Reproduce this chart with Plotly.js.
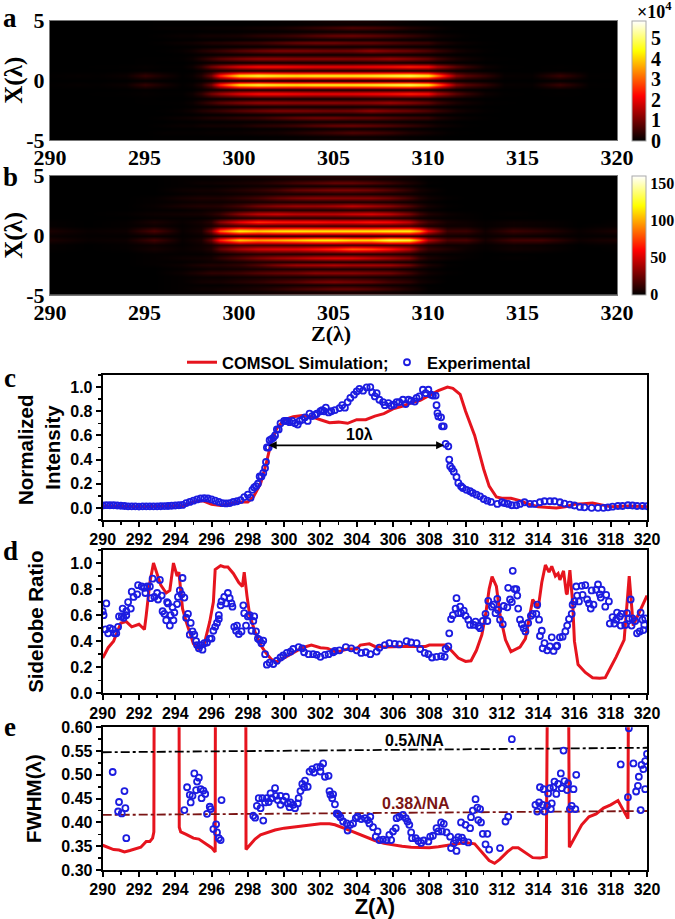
<!DOCTYPE html>
<html><head><meta charset="utf-8">
<script src="https://cdn.plot.ly/plotly-3.0.0.min.js"></script>
<style>html,body{margin:0;padding:0;background:#fff}</style></head>
<body><div id="chart" style="width:675px;height:919px"></div>
<script>
// ---------- heatmap a ----------
const zColsA=[290,291.5,292.5,294,295,296,297,297.5,298,298.5,299,300,301,302,303,304,305,306,307,308,309,310,310.5,311,311.5,312,313,314,315.5,317,318.5,320];
const xRowsA=[0,.37,.78,1.15,1.5,1.85,2.17,2.5,2.83,3.15,3.45,3.75,4.07,4.4,4.7,5];
const heatA=[
[0,0,0,0,.02,0,0,0,.02,.05,.08,.08,.08,.08,.08,.08,.08,.08,.08,.08,.08,.08,.08,.08,.05,.03,.02,0,0,.02,0,0],
[.02,.05,.03,.1,.45,.2,.02,.08,.3,1.0,2.6,4.4,4.8,4.6,4.5,4.6,4.6,4.6,4.7,4.9,5.1,4.6,3.4,2.2,1.2,.8,.45,.06,.05,.5,.02,.01],
[0,0,0,0,.02,0,0,0,.05,.12,.15,.2,.2,.2,.2,.2,.2,.2,.2,.2,.2,.2,.15,.1,.05,.03,.01,0,0,.01,0,0],
[0,0,.01,.02,.05,.02,.02,.12,.4,1.0,1.4,2.0,2.3,2.3,2.2,2.1,2.1,2.1,2.2,2.3,2.5,2.3,1.6,1.2,.8,.5,.12,.02,0,.02,0,0],
[0,0,0,0,.01,0,0,.01,.03,.05,.05,.06,.08,.1,.1,.1,.1,.12,.15,.15,.12,.08,.05,.03,.02,.01,0,0,0,0,0,0],
[0,0,0,0,.01,.01,.03,.1,.3,.55,.8,1.1,1.3,1.3,1.25,1.25,1.25,1.2,1.25,1.4,1.2,.9,.6,.4,.25,.15,.04,.01,0,0,0,0],
[0,0,0,0,0,0,.01,.02,.03,.04,.05,.06,.08,.1,.1,.1,.1,.1,.1,.1,.08,.05,.03,.02,.01,.01,0,0,0,0,0,0],
[0,0,0,0,0,.01,.06,.14,.28,.4,.5,.75,.95,1.1,1.1,1.05,1,1.05,1.3,1.1,.95,.7,.5,.35,.2,.12,.03,0,0,0,0,0],
[0,0,0,0,0,0,.01,.01,.02,.03,.03,.04,.06,.08,.1,.1,.1,.1,.1,.08,.06,.04,.02,.01,.01,0,0,0,0,0,0,0],
[0,0,0,0,0,.04,.1,.14,.2,.28,.3,.42,.5,.7,.9,1,1,.9,.9,.75,.6,.5,.3,.2,.12,.07,.02,0,0,0,0,0],
[0,0,0,0,0,0,.01,.01,.02,.02,.02,.03,.04,.06,.08,.1,.1,.1,.1,.08,.05,.03,.02,.01,0,0,0,0,0,0,0,0],
[0,0,0,0,0,.04,.08,.08,.14,.16,.16,.2,.35,.42,.55,.75,.9,.95,.85,.7,.5,.28,.16,.1,.06,.02,0,0,0,0,0,0],
[0,0,0,0,0,0,.01,.01,.01,.01,.01,.02,.03,.04,.05,.07,.09,.1,.09,.06,.04,.02,.01,0,0,0,0,0,0,0,0,0],
[0,0,0,0,0,.04,.04,.04,.05,.07,.07,.08,.14,.16,.28,.42,.55,.7,.62,.5,.28,.16,.1,.05,.02,.01,0,0,0,0,0,0],
[0,0,0,0,0,.01,.01,.01,.01,.01,.01,.01,.01,.02,.03,.05,.07,.08,.08,.05,.03,.01,.01,0,0,0,0,0,0,0,0,0],
[0,0,0,0,0,.01,.01,.01,.01,.01,.01,.01,.02,.04,.06,.1,.15,.18,.18,.12,.06,.02,.01,0,0,0,0,0,0,0,0,0]
];
// ---------- heatmap b ----------
const zColsB=[290,292,294,295.5,297,298,298.5,299,300,301,302,303,304,305,306,307,308,309,309.5,310,311,312,313,314.5,316,318,319,320];
const xRowsB=[-5,-4.75,-4.45,-4.15,-3.85,-3.5,-3.15,-2.83,-2.5,-2.17,-1.85,-1.5,-1.15,-.78,-.37,0,.37,.78,1.15,1.5,1.85,2.17,2.5,2.83,3.15,3.5,3.85,4.15,4.45,4.75,5];
const heatB=[
[0,0,0,0,1,1,2,3,4,5,6,7,8,8,8,8,6,4,2,1,0,0,0,0,0,0,0,0],
[0,0,0,0,1,1,1,1,2,2,3,4,4,5,5,4,3,2,1,0,0,0,0,0,0,0,0,0],
[0,0,0,0,1,3,3,4,5,7,11,16,20,24,24,20,14,7,4,1,0,0,0,0,0,0,0,0],
[0,0,0,0,1,1,1,1,2,3,3,4,4,5,5,4,3,2,1,0,0,0,0,0,0,0,0,0],
[0,0,0,0,1,4,5,5,8,11,16,20,27,30,27,24,16,11,5,3,0,0,0,0,0,0,0,0],
[0,0,0,0,1,2,2,2,3,4,5,5,5,6,6,5,4,3,2,1,0,0,0,0,0,0,0,0],
[0,0,0,0,3,8,11,11,14,20,24,27,33,33,33,30,27,16,8,4,1,0,0,0,0,0,0,0],
[0,0,0,0,1,2,3,3,4,5,6,6,6,6,6,6,5,3,2,1,0,0,0,0,0,0,0,0],
[0,0,0,1,3,7,8,8,11,19,30,38,40,43,40,40,38,27,14,7,1,0,0,0,0,0,0,0],
[0,0,0,1,1,2,3,3,5,7,7,7,7,7,7,7,6,4,2,1,0,0,0,0,0,0,0,0],
[0,0,0,1,3,4,5,11,20,30,38,43,50,54,54,47,40,30,14,7,3,1,0,1,0,0,0,0],
[0,0,0,1,1,1,2,3,6,8,8,8,8,8,8,8,8,6,3,2,1,1,0,0,0,0,0,0],
[1,0,1,5,2,4,8,24,40,50,54,56,64,72,85,80,66,46,24,13,8,3,1,4,3,0,0,1],
[1,0,1,3,1,3,5,10,15,15,15,15,15,15,15,15,15,15,10,6,3,3,1,3,2,0,1,1],
[6,2,3,16,2,6,25,70,110,100,105,112,120,122,115,115,135,130,90,45,18,18,5,16,16,3,5,6],
[2,1,1,2,1,2,4,8,10,10,10,10,10,10,10,10,10,10,8,6,4,3,2,3,2,1,1,1],
[6,2,3,18,2,6,30,85,122,112,118,120,118,118,118,118,122,122,100,55,14,14,4,14,10,2,4,6],
[1,0,1,3,1,3,5,10,15,15,15,15,15,15,15,15,15,15,10,6,3,3,1,3,2,0,1,1],
[1,0,1,6,2,5,10,32,56,72,66,64,64,60,60,64,60,46,26,15,5,3,1,3,2,0,0,1],
[0,0,0,1,1,1,2,3,6,8,8,8,8,8,8,8,8,6,3,2,1,1,0,0,0,0,0,0],
[0,0,1,3,4,5,8,13,33,46,50,46,46,46,50,53,46,30,16,8,3,1,0,1,0,0,0,0],
[0,0,0,1,1,2,3,3,5,7,7,7,7,7,7,7,6,4,2,1,0,0,0,0,0,0,0,0],
[0,0,0,2,6,8,8,9,16,27,33,37,37,40,46,40,33,20,11,5,1,0,0,0,0,0,0,0],
[0,0,0,1,2,3,3,3,4,5,6,6,6,6,6,6,5,3,2,1,0,0,0,0,0,0,0,0],
[0,0,0,1,5,7,7,7,11,16,24,30,33,33,33,33,27,16,8,4,1,0,0,0,0,0,0,0],
[0,0,0,0,1,2,2,2,3,4,5,5,5,6,6,5,4,3,2,1,0,0,0,0,0,0,0,0],
[0,0,0,0,3,4,4,5,8,11,16,24,27,30,30,27,20,11,5,3,0,0,0,0,0,0,0,0],
[0,0,0,0,1,1,1,1,2,3,3,4,4,5,5,4,3,2,1,0,0,0,0,0,0,0,0,0],
[0,0,0,0,1,3,3,4,5,7,11,16,20,24,24,20,14,7,4,1,0,0,0,0,0,0,0,0],
[0,0,0,0,1,1,1,1,2,2,3,4,4,5,5,4,3,2,1,0,0,0,0,0,0,0,0,0],
[0,0,0,0,1,1,2,3,4,5,6,7,8,8,8,8,6,4,2,1,0,0,0,0,0,0,0,0]
];
// ---------- panel c ----------
const redC=[[290,.015],[292,.01],[294,.015],[294.5,.02],[295,.05],[295.5,.06],[296,.03],[296.5,.02],[297,.035],[297.5,.05],[298,.05],[298.3,.09],[298.7,.2],[299,.36],[299.3,.55],[299.6,.66],[300,.73],[300.5,.755],[301,.765],[301.5,.755],[302,.73],[302.5,.705],[303,.71],[303.5,.7],[304,.73],[304.5,.73],[305,.76],[305.5,.78],[306,.82],[306.5,.84],[307,.87],[307.5,.89],[308,.93],[308.5,.97],[309,1],[309.3,.99],[309.7,.94],[310,.8],[310.5,.6],[311,.32],[311.3,.18],[311.7,.09],[312,.08],[312.5,.08],[313,.06],[313.5,.03],[314,.01],[315,0],[315.5,.01],[316,.03],[316.5,.035],[317,.04],[317.5,.025],[318,.01],[319,.015],[320,.01]];
const blueC=[[290,.02],[290.2,.023],[290.4,.022],[290.6,.022],[290.8,.02],[291,.018],[291.2,.016],[291.4,.013],[291.6,.012],[291.8,.012],[292,.011],[292.2,.012],[292.4,.012],[292.6,.013],[292.8,.013],[293,.013],[293.2,.014],[293.4,.015],[293.6,.016],[293.8,.018],[294,.02],[294.2,.022],[294.4,.025],[294.6,.04],[294.8,.05],[295,.06],[295.2,.07],[295.4,.078],[295.6,.08],[295.8,.078],[296,.07],[296.2,.06],[296.4,.05],[296.6,.04],[296.8,.037],[297,.04],[297.2,.05],[297.4,.055],[297.6,.065],[297.8,.09],[298,.11],[298.15,.085],[298.25,.15],[298.35,.17],[298.45,.18],[298.55,.2],[298.65,.26],[298.75,.26],[298.85,.29],[298.95,.33],[299,.38],[299.05,.5],[299.15,.5],[299.2,.56],[299.3,.57],[299.4,.58],[299.5,.6],[299.6,.65],[299.7,.65],[299.8,.7],[300,.72],[300.1,.72],[300.2,.72],[300.3,.71],[300.45,.72],[300.6,.7],[300.75,.69],[300.85,.72],[301,.73],[301.15,.75],[301.3,.72],[301.4,.78],[301.55,.76],[301.7,.77],[301.8,.78],[302,.8],[302.1,.81],[302.2,.8],[302.3,.83],[302.45,.79],[302.6,.8],[302.8,.81],[303.05,.826],[303.2,.85],[303.35,.83],[303.5,.876],[303.65,.91],[303.85,.937],[304,.964],[304.15,.986],[304.35,.97],[304.55,.997],[304.75,1],[304.85,.956],[305,.923],[305.1,.95],[305.25,.895],[305.45,.876],[305.55,.85],[305.75,.868],[305.9,.845],[306.05,.854],[306.2,.876],[306.35,.876],[306.55,.895],[306.7,.86],[306.85,.895],[307,.887],[307.2,.88],[307.3,.91],[307.45,.923],[307.65,.978],[307.8,.95],[307.95,.978],[308.1,.937],[308.2,.93],[308.35,.93],[308.4,.85],[308.45,.785],[308.5,.757],[308.65,.75],[308.7,.675],[308.8,.675],[308.9,.53],[309.05,.51],[309.1,.4],[309.15,.345],[309.25,.325],[309.35,.3],[309.5,.256],[309.6,.207],[309.75,.18],[309.85,.165],[310.05,.15],[310.25,.138],[310.4,.124],[310.6,.11],[310.8,.096],[311,.074],[311.2,.06],[311.4,.05],[311.75,.033],[312,.047],[312.15,.04],[312.35,.033],[312.55,.022],[312.8,.022],[313,.033],[313.25,.047],[313.55,.033],[313.8,.033],[314.1,.047],[314.35,.055],[314.65,.055],[314.9,.055],[315.2,.047],[315.45,.036],[315.75,.028],[316,.02],[316.3,.008],[316.55,.005],[316.95,0],[317.3,0],[317.6,0],[317.85,.005],[318.1,.01],[318.4,.016],[318.65,.016],[318.95,.022],[319.2,.02],[319.45,.016],[319.75,.016],[320,.014]];
// ---------- panel d ----------
const redD=[[290,.27],[290.3,.35],[290.6,.4],[290.8,.47],[291,.54],[291.3,.55],[291.6,.51],[292,.53],[292.3,.49],[292.4,.6],[292.6,.85],[292.8,1],[293,.92],[293.2,.83],[293.5,.77],[293.7,.79],[293.9,1],[294.1,.9],[294.2,.93],[294.4,.65],[294.6,.55],[295,.38],[295.3,.34],[295.6,.38],[295.9,.55],[296.1,.7],[296.2,.95],[296.5,.98],[296.7,.97],[296.9,.97],[297.2,.92],[297.5,.85],[297.7,.82],[297.8,.93],[297.95,.75],[298.1,.6],[298.4,.47],[298.7,.37],[299,.31],[299.3,.26],[299.6,.24],[300,.27],[300.5,.31],[301,.35],[301.5,.37],[302,.35],[302.4,.345],[302.8,.32],[303,.32],[303.5,.34],[304,.34],[304.2,.37],[304.7,.38],[305,.36],[305.5,.355],[306,.36],[306.5,.36],[307,.36],[307.5,.36],[307.8,.36],[308,.37],[308.5,.37],[308.9,.37],[309.2,.33],[309.6,.27],[310,.245],[310.3,.25],[310.6,.33],[310.9,.45],[311.1,.6],[311.3,.8],[311.46,.895],[311.7,.82],[311.9,.6],[312.2,.41],[312.5,.32],[312.8,.34],[313,.355],[313.3,.42],[313.5,.57],[313.7,.72],[313.9,.68],[314,.65],[314.2,.85],[314.4,.985],[314.6,.93],[314.75,.975],[314.95,.9],[315.1,.92],[315.2,.87],[315.4,.94],[315.55,.77],[315.6,.76],[315.75,.945],[315.9,.7],[316,.4],[316.2,.22],[316.6,.16],[317,.12],[317.4,.115],[317.7,.12],[318,.2],[318.3,.28],[318.74,.41],[319.02,.9],[319.24,.52],[319.5,.6],[320,.75]];
const blueD=[[290,.63],[290.05,.6],[290.2,.69],[290.15,.49],[290.3,.46],[290.4,.5],[290.55,.49],[290.65,.46],[290.75,.46],[290.85,.51],[290.9,.59],[291.05,.59],[291.1,.65],[291.15,.58],[291.3,.6],[291.3,.63],[291.4,.7],[291.55,.65],[291.6,.78],[291.7,.74],[291.9,.76],[291.95,.83],[292.15,.82],[292.3,.81],[292.35,.77],[292.45,.82],[292.6,.82],[292.65,.73],[292.75,.88],[292.85,.74],[293,.77],[293.05,.72],[293.15,.87],[293.25,.75],[293.3,.63],[293.4,.61],[293.5,.56],[293.55,.7],[293.6,.69],[293.7,.52],[293.75,.6],[293.85,.66],[293.9,.56],[293.95,.62],[294.1,.685],[294.15,.74],[294.25,.79],[294.35,.76],[294.4,.885],[294.5,.735],[294.6,.58],[294.7,.61],[294.85,.54],[294.8,.45],[294.95,.475],[295.05,.45],[295.15,.4],[295.2,.37],[295.3,.345],[295.4,.37],[295.5,.335],[295.6,.385],[295.75,.39],[295.9,.42],[296,.42],[296.1,.48],[296.2,.51],[296.3,.54],[296.4,.57],[296.4,.6],[296.5,.675],[296.55,.705],[296.7,.74],[296.8,.69],[296.9,.77],[297,.73],[297.1,.69],[297.15,.665],[297.25,.51],[297.4,.52],[297.35,.48],[297.5,.455],[297.65,.475],[297.75,.675],[297.8,.615],[297.9,.52],[298,.59],[298.1,.6],[298.3,.555],[298.35,.59],[298.2,.48],[298.45,.475],[298.55,.42],[298.65,.41],[298.75,.385],[298.85,.405],[298.95,.3],[299.05,.22],[299.2,.235],[299.4,.225],[299.6,.25],[299.8,.275],[299.95,.29],[300.15,.31],[300.35,.32],[300.5,.34],[300.8,.355],[301,.345],[301.1,.315],[301.35,.3],[301.6,.3],[301.8,.295],[302,.28],[302.25,.295],[302.45,.3],[302.7,.315],[302.8,.325],[303.05,.33],[303.4,.355],[303.7,.345],[304,.33],[304.25,.31],[304.5,.315],[304.75,.3],[305.1,.32],[305.25,.35],[305.55,.37],[305.8,.385],[306.1,.38],[306.35,.375],[306.75,.4],[307,.39],[307.3,.385],[307.5,.34],[307.75,.31],[307.95,.3],[308.15,.275],[308.4,.28],[308.65,.285],[308.85,.28],[308.9,.34],[309.05,.36],[309.1,.46],[309.2,.57],[309.3,.6],[309.45,.65],[309.5,.73],[309.6,.615],[309.7,.665],[309.75,.615],[309.9,.635],[310,.595],[310.15,.565],[310.25,.525],[310.45,.525],[310.55,.55],[310.7,.515],[310.8,.5],[310.95,.555],[311.1,.61],[311.2,.555],[311.25,.71],[311.45,.665],[311.55,.68],[311.65,.615],[311.75,.725],[311.8,.64],[311.9,.565],[312.05,.53],[312.1,.67],[312.3,.66],[312.35,.81],[312.45,.72],[312.55,.7],[312.6,.94],[312.7,.8],[312.8,.8],[312.85,.75],[312.9,.65],[313,.565],[313.1,.53],[313.2,.5],[313.3,.475],[313.45,.54],[313.6,.595],[313.7,.61],[313.9,.61],[313.95,.68],[314.05,.565],[314.1,.44],[314.2,.48],[314.25,.345],[314.35,.385],[314.5,.33],[314.65,.36],[314.75,.43],[314.85,.325],[315,.36],[315.05,.365],[315.2,.43],[315.35,.435],[315.5,.475],[315.6,.52],[315.7,.57],[315.85,.61],[315.9,.68],[316,.705],[316.1,.82],[316.15,.75],[316.25,.705],[316.4,.825],[316.45,.755],[316.6,.83],[316.7,.72],[316.8,.69],[316.9,.65],[317.05,.68],[316.95,.79],[317.2,.795],[317.3,.835],[317.4,.76],[317.5,.795],[317.45,.735],[317.7,.665],[317.75,.755],[317.9,.705],[317.95,.535],[318.1,.585],[318.2,.535],[318.3,.565],[318.35,.62],[318.5,.59],[318.6,.61],[318.55,.52],[318.8,.525],[318.9,.615],[319,.575],[319.1,.72],[319.15,.52],[319.2,.575],[319.35,.555],[319.45,.46],[319.65,.62],[319.6,.475],[319.8,.485],[319.75,.565],[319.9,.575],[319.85,.525]];
// ---------- panel e ----------
const redE=[[290,.352],[290.3,.347],[290.6,.343],[290.9,.342],[291.2,.338],[291.5,.341],[291.8,.345],[292.1,.348],[292.4,.36],[292.6,.36],[292.75,.367],[292.82,.38],[292.85,.9],[294.2,.9],[294.22,.39],[294.3,.38],[294.6,.375],[295,.367],[295.3,.365],[295.6,.358],[296,.347],[296.2,.338],[296.22,.9],[297.88,.9],[297.9,.343],[298.1,.352],[298.4,.365],[298.7,.374],[299,.378],[299.5,.384],[300,.388],[300.5,.39],[301,.392],[301.5,.395],[302,.397],[302.5,.397],[302.8,.395],[303.5,.385],[304,.377],[304.5,.369],[305,.362],[305.5,.356],[306,.3525],[306.5,.35],[307,.348],[307.5,.347],[308,.347],[308.5,.349],[309,.352],[309.5,.356],[310,.358],[310.5,.355],[311,.332],[311.3,.32],[311.6,.314],[311.9,.323],[312.3,.338],[312.6,.347],[312.9,.347],[313.3,.336],[313.7,.326],[314.1,.325],[314.45,.328],[314.55,.9],[315.65,.9],[315.72,.348],[316,.367],[316.4,.395],[316.8,.412],[317.2,.418],[317.6,.43],[318,.437],[318.4,.446],[318.7,.426],[318.95,.408],[319,.9]];
const blueE=[[290.55,.506],[290.9,.443],[291.2,.466],[290.85,.423],[291.05,.419],[291.25,.43],[291.3,.367],[294.5,.426],[294.65,.474],[294.8,.458],[294.85,.442],[294.95,.456],[295.05,.503],[295.15,.468],[295.2,.486],[295.3,.494],[295.4,.47],[295.45,.451],[295.55,.467],[295.65,.46],[295.75,.418],[295.9,.433],[295.95,.428],[296.1,.386],[296.25,.396],[296.3,.379],[296.4,.367],[296.5,.363],[296.55,.447],[298.3,.414],[298.4,.41],[298.5,.435],[298.6,.451],[298.7,.43],[298.85,.404],[298.8,.451],[298.95,.442],[299.05,.451],[299.15,.443],[299.25,.461],[299.3,.451],[299.5,.472],[299.55,.456],[299.65,.447],[299.8,.437],[299.8,.456],[299.95,.446],[300.1,.454],[300.2,.44],[300.3,.432],[300.35,.442],[300.5,.437],[300.6,.43],[300.75,.44],[300.8,.451],[300.9,.466],[301,.481],[301.15,.488],[301.1,.474],[301.3,.475],[301.4,.507],[301.55,.512],[301.65,.505],[301.8,.516],[302,.517],[302,.507],[302.15,.524],[302.25,.496],[302.45,.498],[302.5,.466],[302.55,.458],[302.7,.459],[302.65,.451],[302.8,.438],[302.9,.419],[303,.416],[302.95,.418],[303.1,.411],[303.25,.402],[303.45,.398],[303.5,.383],[303.65,.395],[303.8,.398],[303.95,.409],[304.05,.412],[304.25,.407],[304.45,.409],[304.6,.405],[304.75,.412],[304.7,.398],[304.9,.39],[305.05,.37],[305.15,.381],[305.25,.363],[305.45,.364],[305.65,.363],[305.8,.374],[305.9,.363],[306,.381],[306.15,.388],[306.2,.409],[306.35,.412],[306.55,.416],[306.7,.409],[306.8,.402],[306.9,.395],[307,.379],[307.05,.367],[307.25,.367],[307.4,.361],[307.55,.357],[307.7,.362],[307.95,.36],[308.05,.37],[308.2,.372],[308.4,.388],[308.5,.381],[308.65,.4],[308.8,.397],[308.7,.381],[308.95,.379],[309.15,.37],[309.2,.346],[309.35,.356],[309.5,.34],[309.45,.363],[309.6,.369],[309.8,.368],[309.75,.4],[309.9,.361],[310,.395],[310.15,.358],[310.25,.388],[310.3,.411],[310.4,.425],[310.55,.449],[310.65,.431],[310.8,.428],[310.7,.405],[310.85,.4],[310.95,.376],[311.2,.376],[311.1,.354],[311.3,.343],[311.9,.346],[312.2,.402],[312.35,.412],[312.55,.575],[313.85,.437],[313.95,.423],[314.05,.442],[314.1,.474],[314.25,.437],[314.3,.47],[314.35,.423],[314.5,.435],[314.55,.461],[314.65,.472],[314.75,.44],[314.7,.428],[314.85,.474],[314.9,.486],[315,.46],[315.1,.481],[315.25,.503],[315.3,.472],[315.45,.487],[315.6,.468],[315.65,.482],[315.4,.551],[315.75,.428],[315.85,.435],[316.05,.428],[315.95,.47],[316.1,.5],[318.55,.522],[318.95,.453],[319,.598],[319.25,.524],[319.4,.465],[319.5,.477],[319.55,.496],[319.65,.426],[319.7,.521],[319.8,.512],[319.9,.529],[319.9,.47],[320,.544]];
const lineHalf=[[290,.5475],[320,.557]];
const line038=[[290,.4157],[320,.424]];
// ---------- ticks ----------
const ticksZ5=[290,295,300,305,310,315,320];
const ticksX=[-5,0,5];
const ticksXText=['-5','0','5'];
const ticksBarA=[0,1,2,3,4,5];
const ticksBarB=[0,50,100,150];

const W=675,H=919;
const dx=(a,b)=>[a/W,b/W];
const dy=(t,b)=>[1-b/H,1-t/H];
const serif='Liberation Serif',sans='Liberation Sans';
const RED='#e6141e',BLUE='#1c1ce0',DARKRED='#7a1414';
const hot=[[0,'#000000'],[.375,'#ff0000'],[.75,'#ffff00'],[1,'#ffffff']];
const xs=p=>p.map(d=>d[0]),ys=p=>p.map(d=>d[1]);

const negRowsA=xRowsA.slice(1).map(v=>-v).reverse();
const fullRowsA=negRowsA.concat(xRowsA);
const fullHeatA=heatA.slice(1).reverse().concat(heatA);

function bar(y,len,vals,size){return {x:632/W,xanchor:'left',y:1-y/H,yanchor:'top',len:len,lenmode:'pixels',thickness:14,thicknessmode:'pixels',xpad:0,ypad:0,tickmode:'array',tickvals:vals,ticktext:vals.map(String),ticks:'',ticklabelposition:'outside',outlinecolor:'#aaaaaa',outlinewidth:1,tickfont:{family:serif,size:size,color:'#000',weight:'bold'}};}

const red=(p,ax,ay,extra)=>Object.assign({x:xs(p),y:ys(p),mode:'lines',xaxis:ax,yaxis:ay,line:{color:RED,width:3},showlegend:false,hoverinfo:'skip'},extra||{});
const blue=(p,ax,ay,extra)=>Object.assign({x:xs(p),y:ys(p),mode:'markers',xaxis:ax,yaxis:ay,marker:{symbol:'circle-open',size:6,color:BLUE,line:{color:BLUE,width:1.8}},showlegend:false,hoverinfo:'skip'},extra||{});

const data=[
{type:'heatmap',x:zColsA,y:fullRowsA,z:fullHeatA,zmin:0,zmax:5.88,zsmooth:'best',colorscale:hot,xaxis:'x',yaxis:'y',colorbar:bar(20.5,119.5,ticksBarA,20)},
{type:'heatmap',x:zColsB,y:xRowsB,z:heatB,zmin:0,zmax:160,zsmooth:'best',colorscale:hot,xaxis:'x2',yaxis:'y2',colorbar:bar(175.7,119.3,ticksBarB,16)},
red(redC,'x3','y3',{name:'COMSOL Simulation;',showlegend:true}),
blue(blueC,'x3','y3',{name:'Experimental',showlegend:true}),
red(redD,'x4','y4'),blue(blueD,'x4','y4'),
red(redE,'x5','y5'),
{x:xs(lineHalf),y:ys(lineHalf),mode:'lines',xaxis:'x5',yaxis:'y5',line:{color:'#000',width:1.8,dash:'dashdot'},showlegend:false},
{x:xs(line038),y:ys(line038),mode:'lines',xaxis:'x5',yaxis:'y5',line:{color:DARKRED,width:1.8,dash:'dashdot'},showlegend:false},
blue(blueE,'x5','y5')
];

const heatX=(dom,anchor)=>({domain:dom,anchor:anchor,range:[290,320],tickmode:'array',tickvals:ticksZ5,ticktext:ticksZ5.map(String),ticks:'',showgrid:false,zeroline:false,showline:true,mirror:true,linecolor:'#777',linewidth:1,ticklabelstandoff:-2,tickfont:{family:serif,size:22,color:'#000',weight:'bold'}});
const heatY=(dom,anchor)=>({domain:dom,anchor:anchor,range:[-5,5],tickmode:'array',tickvals:ticksX,ticktext:ticksXText,ticks:'',showgrid:false,zeroline:false,showline:true,mirror:true,linecolor:'#777',linewidth:1,tickfont:{family:serif,size:22,color:'#000',weight:'bold'},title:{text:'X(λ)',standoff:3,font:{family:serif,size:25,color:'#000',weight:'bold'}}});
const lineX=(dom,anchor,title)=>({domain:dom,anchor:anchor,range:[290,320],dtick:2,tick0:290,ticks:'outside',ticklen:5,tickwidth:2,tickcolor:'#000',minor:{dtick:1,ticks:'outside',ticklen:3,tickwidth:1.5,tickcolor:'#000'},showgrid:false,zeroline:false,showline:true,mirror:true,linecolor:'#000',linewidth:2,ticklabelstandoff:-1,tickfont:{family:sans,size:16,color:'#000',weight:'bold'},title:title?{text:title,standoff:1,font:{family:sans,size:22,color:'#000',weight:'bold'}}:undefined});
const lineY=(dom,anchor,range,dtick,minor,fmt,title,standoff)=>({domain:dom,anchor:anchor,range:range,dtick:dtick,tick0:0,tickformat:fmt,ticks:'outside',ticklen:5,tickwidth:2,tickcolor:'#000',minor:{dtick:minor,ticks:'outside',ticklen:3,tickwidth:1.5,tickcolor:'#000'},showgrid:false,zeroline:false,showline:true,mirror:true,linecolor:'#000',linewidth:2,tickfont:{family:sans,size:16,color:'#000',weight:'bold'},title:{text:title,standoff:standoff,font:{family:sans,size:20.5,color:'#000',weight:'bold'}}});

const letter=(t,x,y)=>({text:t,xref:'paper',yref:'paper',x:x/W,y:1-y/H,showarrow:false,xanchor:'center',yanchor:'middle',font:{family:serif,size:27,color:'#000',weight:'bold'}});

const layout={
width:W,height:H,margin:{l:0,r:0,t:0,b:0},paper_bgcolor:'#fff',plot_bgcolor:'#fff',
showlegend:true,
legend:{orientation:'h',x:182/W,y:1-345/H,xanchor:'left',yanchor:'top',entrywidth:160,entrywidthmode:'pixels',bgcolor:'rgba(0,0,0,0)',font:{family:sans,size:16.5,color:'#000',weight:'bold'}},
xaxis:heatX(dx(50,617),'y'),yaxis:heatY(dy(20.5,140),'x'),
xaxis2:heatX(dx(50,617),'y2'),yaxis2:heatY(dy(175.7,295),'x2'),
xaxis3:lineX(dx(102.7,647),'y3'),yaxis3:lineY(dy(375,520),'x3',[-.1,1.1],.2,.1,'.1f','Intensity',4),
xaxis4:lineX(dx(102.7,647),'y4'),yaxis4:lineY(dy(550,693.3),'x4',[0,1.1],.2,.1,'.1f','Sidelobe Ratio',21),
xaxis5:lineX(dx(102.7,647),'y5','Z(λ)'),yaxis5:lineY(dy(727.3,870),'x5',[.3,.6],.05,.025,'.2f','FWHM(λ)',14),
annotations:[
letter('a',10,18),letter('b',11,177),letter('c',10,378),letter('d',11,551),letter('e',10,727),
{text:'Normalized',xref:'paper',yref:'paper',x:25/W,y:1-450/H,textangle:-90,showarrow:false,xanchor:'center',yanchor:'middle',font:{family:sans,size:20.5,color:'#000',weight:'bold'}},
{text:'Z(λ)',xref:'paper',yref:'paper',x:331/W,y:1-333/H,showarrow:false,xanchor:'center',yanchor:'middle',font:{family:serif,size:22,color:'#000',weight:'bold'}},
{text:'×10<sup>4</sup>',xref:'paper',yref:'paper',x:654/W,y:1-11/H,showarrow:false,xanchor:'center',yanchor:'middle',font:{family:serif,size:18,color:'#000',weight:'bold'}},
{x:299.15,y:.518,ax:308.9,ay:.518,xref:'x3',yref:'y3',axref:'x3',ayref:'y3',text:'',showarrow:true,arrowhead:2,startarrowhead:2,arrowside:'end+start',arrowwidth:1.6,arrowsize:1,arrowcolor:'#000'},
{x:304.15,y:.61,xref:'x3',yref:'y3',text:'10λ',showarrow:false,font:{family:sans,size:16,color:'#000',weight:'bold'}},
{x:307.2,y:.573,xref:'x5',yref:'y5',text:'0.5λ/NA',showarrow:false,font:{family:sans,size:16,color:'#000',weight:'bold'}},
{x:307.25,y:.44,xref:'x5',yref:'y5',text:'0.38λ/NA',showarrow:false,font:{family:sans,size:16,color:DARKRED,weight:'bold'}}
]};
Plotly.newPlot('chart',data,layout,{displayModeBar:false,staticPlot:true});
</script></body></html>
